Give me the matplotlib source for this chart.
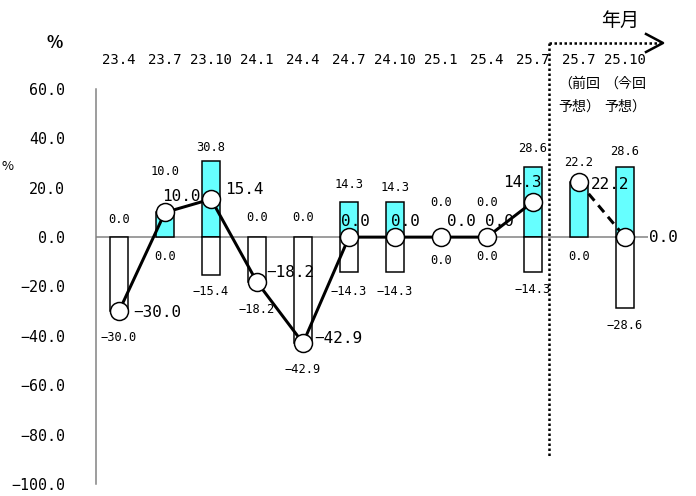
import matplotlib
matplotlib.use("Agg")
import matplotlib.pyplot as plt
from matplotlib.lines import Line2D

categories = ["23.4", "23.7", "23.10", "24.1", "24.4", "24.7", "24.10",
              "25.1", "25.4", "25.7", "25.7\n（前回\n予想）", "25.10\n（今回\n予想）"]
up_values = [0.0, 10.0, 30.8, 0.0, 0.0, 14.3, 14.3, 0.0, 0.0, 28.6, 22.2, 28.6]
down_values = [-30.0, 0.0, -15.4, -18.2, -42.9, -14.3, -14.3, 0.0, 0.0, -14.3, 0.0, -28.6]
net_actual = [-30.0, 10.0, 15.4, -18.2, -42.9, 0.0, 0.0, 0.0, 0.0, 14.3]
net_forecast = [22.2, 0.0]
yticks = [60, 40, 20, 0, -20, -40, -60, -80, -100]

W, H = 696, 496
fig = plt.figure(figsize=(W / 72, H / 72), dpi=72)
ax = fig.add_axes([96 / W, 1 - 484 / H, (648 - 96) / W, (484 - 89) / H])
ax.set_xlim(-0.5, len(categories) - 0.5)
ax.set_ylim(-100, 60)

mono = ["DejaVu Sans Mono", "Noto Sans CJK JP"]
jp = ["Noto Sans CJK JP", "DejaVu Sans"]

def fmt(v):
    s = f"{abs(v):.1f}"
    return ("\u2212" + s) if v < 0 else s

x = list(range(len(categories)))
cyan = "#66FFFF"
ax.bar(x, up_values, width=0.4, color=cyan,
       edgecolor=["black" if v != 0 else "none" for v in up_values], linewidth=1.5, zorder=2)
ax.bar(x, down_values, width=0.4, color="white",
       edgecolor=["black" if v != 0 else "none" for v in down_values], linewidth=1.5, zorder=2)

ax.axhline(0, color="#808080", lw=1.5, zorder=1.5)

n_act = len(net_actual)
ax.plot(x[:n_act], net_actual, color="black", lw=3, zorder=3)
xf = x[n_act:n_act + len(net_forecast)]
ax.plot(xf, net_forecast, color="black", lw=3, ls=(0, (3, 2)), zorder=3)
ax.plot(x[:n_act] + xf, net_actual + net_forecast, ls="none", marker="o", ms=18,
        mfc="white", mec="black", mew=1.5, zorder=4)

# labels for bars
up_off = [18, 41, 14, 20, 20, 17, 14, 35, 35, 18, 20, 15]
dn_off = [26, 19, 16, 27, 26, 19, 19, 23, 19, 17, 19, 18]
for i, (u, d) in enumerate(zip(up_values, down_values)):
    ax.annotate(fmt(u), (i, u), xytext=(0, up_off[i]), textcoords="offset points",
                ha="center", va="center", fontsize=12, family=mono, zorder=5)
    ax.annotate(fmt(d), (i, d), xytext=(0, -dn_off[i]), textcoords="offset points",
                ha="center", va="center", fontsize=12, family=mono, zorder=5)

net_all = net_actual + net_forecast
net_off = [(38, -1), (16, 16), (33, 10), (33, 10), (35, 5), (6, 16), (10, 16),
           (20, 16), (12, 16), (-11, 19), (31, -2), (38, 0)]
for i, v in enumerate(net_all):
    dx, dy = net_off[i]
    ax.annotate(fmt(v), (i, v), xytext=(dx, dy), textcoords="offset points",
                ha="center", va="center", fontsize=16, family=mono, zorder=6)

# category labels on top
for i, c in enumerate(categories):
    ax.text(i, 1 + (89 - 53) / (484 - 89), c, transform=ax.get_xaxis_transform(),
            ha="center", va="top", fontsize=14, family=mono, linespacing=1.85)

# y axis
ax.set_yticks(yticks)
ax.set_yticklabels([fmt(v) for v in yticks], family=mono, fontsize=15)
ax.tick_params(axis="y", length=0, pad=31)
ax.set_xticks([])
for s in ["top", "right", "bottom"]:
    ax.spines[s].set_visible(False)
ax.spines["left"].set_color("#808080")
ax.spines["left"].set_linewidth(1.5)

# annotations in figure pixel coordinates
def fx(px):
    return px / W

def fy(py):
    return 1 - py / H

fig.text(fx(55), fy(43), "%", ha="center", va="center", fontsize=17, family=jp, weight="bold")
fig.text(fx(1), fy(167), "%", ha="left", va="center", fontsize=13, family=jp)
fig.text(fx(620), fy(20), "年月", ha="center", va="center", fontsize=19, family=jp)

fig.add_artist(Line2D([fx(549), fx(549)], [fy(43), fy(457)], color="black", lw=2.5,
                      ls=(0, (1, 1))))
fig.add_artist(Line2D([fx(549), fx(660)], [fy(43), fy(43)], color="black", lw=2.5,
                      ls=(0, (1, 1))))
fig.add_artist(Line2D([fx(646), fx(663), fx(646)], [fy(34), fy(43), fy(52)], color="black",
                      lw=2.5))

fig.savefig("out.png", dpi=72)
